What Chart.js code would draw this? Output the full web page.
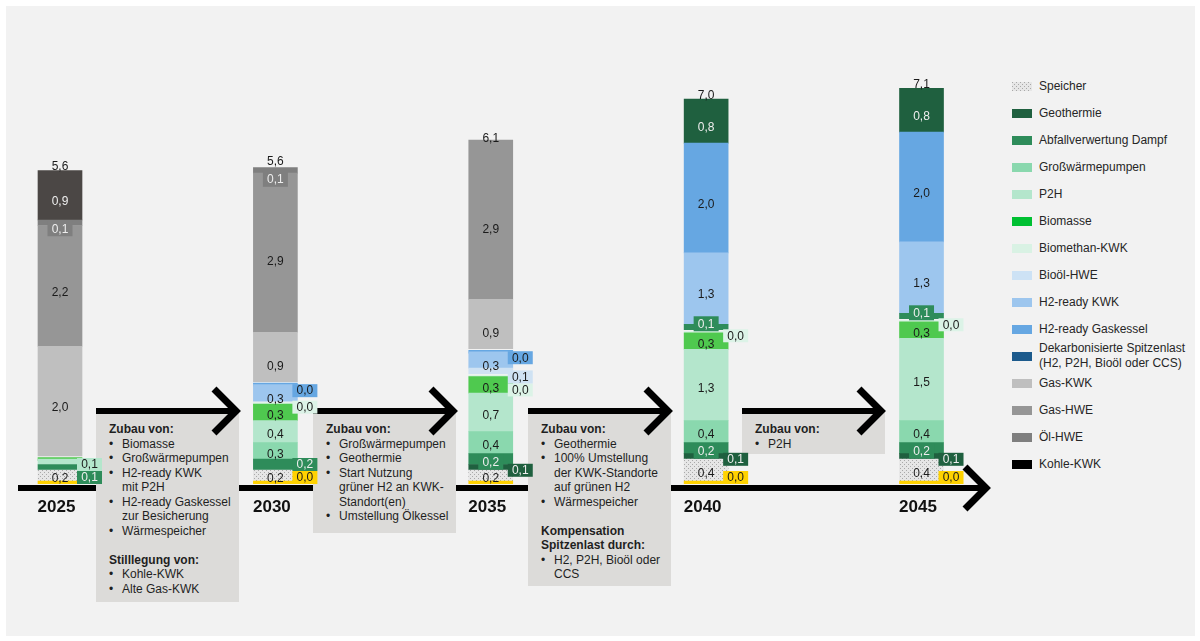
<!DOCTYPE html>
<html lang="de">
<head>
<meta charset="utf-8">
<title>Wärmeerzeugung 2025–2045</title>
<script src="https://cdn.jsdelivr.net/npm/chart.js@4.4.1/dist/chart.umd.min.js"></script>
<style>
  html, body { margin: 0; padding: 0; background: #fff; }
  #stage { position: relative; width: 1200px; height: 641px; overflow: hidden;
           font-family: "Liberation Sans", Arial, sans-serif; color: #1f1f1f; }
  #panel { position: absolute; left: 6px; top: 6px; width: 1189px; height: 630px; background: #f2f2f2; }
  #deco, #chart { position: absolute; left: 0; top: 0; }
  .note { position: absolute; font-size: 12px; line-height: 14.5px; white-space: nowrap; color: #1f1f1f; }
  .note .h { font-weight: bold; }
  .it { position: relative; padding-left: 13px; }
  .it:before { content: "\2022"; position: absolute; left: 0; }
  .gap { height: 14.5px; }
  #legend { position: absolute; left: 0; top: 0; font-size: 12px; color: #262626; }
  .sw { position: absolute; width: 20px; height: 9px; }
  .lt { position: absolute; line-height: 15px; white-space: nowrap; }
</style>
</head>
<body>
<div id="stage">
  <div id="panel"></div>
  <svg id="deco" width="1200" height="641">
    <!-- timeline -->
    <line x1="18" y1="488" x2="984" y2="488" stroke="#000" stroke-width="6"/>
    <polyline points="965,467 986,488 965,509" fill="none" stroke="#000" stroke-width="7" stroke-miterlimit="10"/>
    <!-- step boxes -->
    <rect x="96"  y="411" width="143" height="191" fill="#dcdbd9"/>
    <rect x="313" y="411" width="143" height="122" fill="#dcdbd9"/>
    <rect x="528" y="411" width="143" height="175" fill="#dcdbd9"/>
    <rect x="742" y="411" width="143" height="43"  fill="#dcdbd9"/>
    <!-- step arrows -->
    <g fill="none" stroke="#000" stroke-miterlimit="10">
      <line x1="96"  y1="411" x2="234" y2="411" stroke-width="6"/>
      <polyline points="214,389 236,411 214,433" stroke-width="7"/>
      <line x1="313" y1="411" x2="451" y2="411" stroke-width="6"/>
      <polyline points="431,389 453,411 431,433" stroke-width="7"/>
      <line x1="528" y1="411" x2="666" y2="411" stroke-width="6"/>
      <polyline points="646,389 668,411 646,433" stroke-width="7"/>
      <line x1="742" y1="411" x2="879" y2="411" stroke-width="6"/>
      <polyline points="859,389 881,411 859,433" stroke-width="7"/>
    </g>
  </svg>

  <div class="note" style="left:109px; top:422px;">
    <div class="h">Zubau von:</div>
    <div class="it">Biomasse</div>
    <div class="it">Großwärmepumpen</div>
    <div class="it">H2-ready KWK<br>mit P2H</div>
    <div class="it">H2-ready Gaskessel<br>zur Besicherung</div>
    <div class="it">Wärmespeicher</div>
    <div class="gap"></div>
    <div class="h">Stilllegung von:</div>
    <div class="it">Kohle-KWK</div>
    <div class="it">Alte Gas-KWK</div>
  </div>
  <div class="note" style="left:326px; top:422px;">
    <div class="h">Zubau von:</div>
    <div class="it">Großwärmepumpen</div>
    <div class="it">Geothermie</div>
    <div class="it">Start Nutzung<br>grüner H2 an KWK-<br>Standort(en)</div>
    <div class="it">Umstellung Ölkessel</div>
  </div>
  <div class="note" style="left:541px; top:422px;">
    <div class="h">Zubau von:</div>
    <div class="it">Geothermie</div>
    <div class="it">100% Umstellung<br>der KWK-Standorte<br>auf grünen H2</div>
    <div class="it">Wärmespeicher</div>
    <div class="gap"></div>
    <div class="h">Kompensation<br>Spitzenlast durch:</div>
    <div class="it">H2, P2H, Bioöl oder<br>CCS</div>
  </div>
  <div class="note" style="left:755px; top:422px;">
    <div class="h">Zubau von:</div>
    <div class="it">P2H</div>
  </div>

  <div id="legend"></div>
  <canvas id="chart" width="1200" height="641"></canvas>
</div>

<script>
// ---- Data (GW), stacked bottom to top ----
const years = [2025, 2030, 2035, 2040, 2045];

const sonstige     = [0.0, 0.0, 0.0, 0.0, 0.0];
const speicher     = [0.2, 0.2, 0.2, 0.4, 0.4];
const geothermie   = [null, null, 0.1, 0.1, 0.1];
const abfall       = [0.1, 0.2, 0.2, 0.2, 0.2];
const grosswp      = [null, 0.3, 0.4, 0.4, 0.4];
const p2h          = [0.1, 0.4, 0.7, 1.3, 1.5];
const biomasse     = [0.0, 0.3, 0.3, 0.3, 0.3];
const biomethan    = [null, 0.0, 0.0, 0.0, 0.0];
const biooel       = [null, null, 0.1, 0.1, 0.1];
const h2Kwk        = [null, 0.3, 0.3, 1.3, 1.3];
const h2Kessel     = [null, 0.0, 0.0, 2.0, 2.0];
const spitzenlast  = [null, null, null, 0.8, 0.8];
const gasKwk       = [2.0, 0.9, 0.9, null, null];
const gasHwe       = [2.2, 2.9, 2.9, null, null];
const oelHwe       = [0.1, 0.1, null, null, null];
const kohleKwk     = [0.9, null, null, null, null];

const totals = [5.6, 5.6, 6.1, 7.0, 7.1];

const legendNames = [
  'Speicher', 'Geothermie', 'Abfallverwertung Dampf', 'Großwärmepumpen', 'P2H',
  'Biomasse', 'Biomethan-KWK', 'Bioöl-HWE', 'H2-ready KWK', 'H2-ready Gaskessel',
  'Dekarbonisierte Spitzenlast\n(H2, P2H, Bioöl oder CCS)',
  'Gas-KWK', 'Gas-HWE', 'Öl-HWE', 'Kohle-KWK'
];

// ---- Styles ----
function dottedPattern() {
  const c = document.createElement('canvas');
  c.width = 4; c.height = 4;
  const g = c.getContext('2d');
  g.fillStyle = '#e6e6e6'; g.fillRect(0, 0, 4, 4);
  g.fillStyle = '#a9a9a9';
  g.fillRect(0, 0, 1, 1); g.fillRect(2, 2, 1, 1);
  return c;
}
const patternCanvas = dottedPattern();
const speicherFill = document.getElementById('chart').getContext('2d').createPattern(patternCanvas, 'repeat');

const legendColors = [
  'pattern', '#1f603f', '#2e8c5a', '#8ad8ae', '#b4e6cc', '#00c032', '#d9f2e4',
  '#cde2f5', '#9dc6ee', '#66a7e2', '#1c5a8c', '#bfbfbf', '#969696', '#7f7f7f', '#000000'
];

// label placement per year: 'in' = text in segment, 'box' = text on a filled tag,
// 'tag' = filled tag resting on top of the segment, 'side' = tag beside the bar,
// null = no label
const series = [
  { name: 'Sonstige',            values: sonstige,    color: '#ffd200', labels: [null, 'side', null, 'side', 'side'] },
  { name: 'Speicher',            values: speicher,    color: speicherFill, labels: ['in', 'in', 'in', 'in', 'in'] },
  { name: 'Geothermie',          values: geothermie,  color: '#1f603f', labels: [null, null, 'side', 'side', 'side'] },
  { name: 'Abfallverwertung Dampf', values: abfall,   color: '#2e8c5a', labels: ['side', 'side', 'box', 'box', 'box'] },
  { name: 'Großwärmepumpen',     values: grosswp,     color: '#8ad8ae', labels: [null, 'in', 'in', 'in', 'in'] },
  { name: 'P2H',                 values: p2h,         color: '#b4e6cc', labels: ['side', 'in', 'in', 'in', 'in'] },
  { name: 'Biomasse',            values: biomasse,    color: '#4fc94f', labels: [null, 'in', 'in', 'in', 'in'] },
  { name: 'Biomethan-KWK',       values: biomethan,   color: '#dcf3e7', labels: [null, 'side', 'side', 'side', 'side'] },
  { name: 'Bioöl-HWE',           values: biooel,      color: ['#cfe2f3', '#cfe2f3', '#cfe2f3', '#2e8c5a', '#2e8c5a'], labels: [null, null, 'side', 'tag', 'tag'] },
  { name: 'H2-ready KWK',        values: h2Kwk,       color: '#9dc6ee', labels: [null, 'in', 'in', 'in', 'in'] },
  { name: 'H2-ready Gaskessel',  values: h2Kessel,    color: '#66a7e2', labels: [null, 'side', 'side', 'in', 'in'] },
  { name: 'Dekarbonisierte Spitzenlast', values: spitzenlast, color: '#1f603f', labels: [null, null, null, 'in', 'in'] },
  { name: 'Gas-KWK',             values: gasKwk,      color: '#bfbfbf', labels: ['in', 'in', 'in', null, null] },
  { name: 'Gas-HWE',             values: gasHwe,      color: '#969696', labels: ['in', 'in', 'in', null, null] },
  { name: 'Öl-HWE',              values: oelHwe,      color: '#7f7f7f', labels: ['box', 'box', null, null, null] },
  { name: 'Kohle-KWK',           values: kohleKwk,    color: '#4b4745', labels: ['in', null, null, null, null] }
];

const FONT = '"Liberation Sans", Arial, sans-serif';
const fmt = v => v.toFixed(1).replace('.', ',');
const colorAt = (s, j) => Array.isArray(s.color) ? s.color[j] : s.color;
function isDark(c) {
  if (typeof c !== 'string') return false;
  const n = parseInt(c.slice(1), 16);
  const r = n >> 16, g = (n >> 8) & 255, b = n & 255;
  return (0.299 * r + 0.587 * g + 0.114 * b) / 255 < 0.52;
}

// ---- Legend ----
(function buildLegend() {
  const box = document.getElementById('legend');
  const dataUrl = patternCanvas.toDataURL();
  legendNames.forEach((name, k) => {
    const cy = 86 + 27 * k;
    const sw = document.createElement('div');
    sw.className = 'sw';
    sw.style.left = '1012px';
    sw.style.top = (cy - 4.5) + 'px';
    if (legendColors[k] === 'pattern') sw.style.backgroundImage = 'url(' + dataUrl + ')';
    else sw.style.background = legendColors[k];
    box.appendChild(sw);
    const lines = name.split('\n');
    const t = document.createElement('div');
    t.className = 'lt';
    t.style.left = '1039px';
    t.style.top = (cy - lines.length * 7.5) + 'px';
    t.innerHTML = lines.join('<br>');
    box.appendChild(t);
  });
})();

// ---- Labels, totals and year captions ----
const annotate = {
  id: 'annotate',
  afterDatasetsDraw(chart) {
    const ctx = chart.ctx;
    const yS = chart.scales.y, xS = chart.scales.x;
    const base = yS.getPixelForValue(0);
    ctx.save();
    ctx.font = '12px ' + FONT;
    ctx.textAlign = 'center';
    ctx.textBaseline = 'middle';

    years.forEach((yr, j) => {
      const cx = xS.getPixelForValue(yr);
      let cum = 0;
      let boxTop = Infinity;
      const side = [];
      series.forEach(s => {
        const v = s.values[j];
        if (v === null) return;
        const mid = yS.getPixelForValue(cum + v / 2);
        const segTop = yS.getPixelForValue(cum + v);
        cum += v;
        const mode = s.labels[j];
        const col = colorAt(s, j);
        const txtCol = isDark(col) ? '#eeeeee' : '#1a1a1a';
        if (mode === 'in') {
          ctx.fillStyle = txtCol;
          ctx.fillText(fmt(v), cx, mid + 0.5);
        } else if (mode === 'box' || mode === 'tag') {
          const c = mode === 'box' ? mid : segTop + 1 - 7.5;
          ctx.fillStyle = col;
          ctx.fillRect(cx - 12.5, c - 7.5, 25, 15);
          ctx.fillStyle = txtCol;
          ctx.fillText(fmt(v), cx, c + 0.5);
          boxTop = Math.min(boxTop, c - 7.5);
        } else if (mode === 'side') {
          side.push({ c: mid, v, col, txtCol });
        }
      });

      // keep side tags from overlapping: push down from the top, then up from the base
      const h = 13;
      for (let k = side.length - 2; k >= 0; k--) side[k].c = Math.max(side[k].c, side[k + 1].c + h);
      for (let k = 0; k < side.length; k++) {
        const limit = k === 0 ? base - h / 2 : side[k - 1].c - h;
        side[k].c = Math.min(side[k].c, limit);
      }
      side.forEach(t => {
        ctx.fillStyle = t.col;
        ctx.fillRect(cx + 17, t.c - h / 2, 25, h);
        ctx.fillStyle = t.txtCol;
        ctx.fillText(fmt(t.v), cx + 29.5, t.c + 0.5);
      });

      // total above the stack
      const top = Math.min(yS.getPixelForValue(cum), boxTop);
      ctx.fillStyle = '#1a1a1a';
      ctx.fillText(fmt(totals[j]), cx, top - 10);

      // year caption under the timeline
      ctx.font = 'bold 17px ' + FONT;
      ctx.textBaseline = 'alphabetic';
      ctx.fillStyle = '#111';
      ctx.fillText(String(yr), cx - 3.5, 512);
      ctx.font = '12px ' + FONT;
      ctx.textBaseline = 'middle';
    });
    ctx.restore();
  }
};

new Chart(document.getElementById('chart'), {
  type: 'bar',
  data: {
    datasets: series.map(s => ({
      label: s.name,
      data: years.map((yr, j) => ({ x: yr, y: s.values[j] })),
      backgroundColor: s.color,
      borderWidth: 0,
      barThickness: 44,
      minBarLength: 3,
      stack: 'mix'
    }))
  },
  options: {
    responsive: false,
    devicePixelRatio: 1,
    animation: false,
    layout: { padding: { left: 0, right: 0, top: 0, bottom: 157 } },
    plugins: { legend: { display: false }, tooltip: { enabled: false } },
    scales: {
      x: { type: 'linear', offset: false, stacked: true, display: false, min: 2023.607, max: 2051.465 },
      y: { stacked: true, display: false, min: 0, max: 8.816 }
    }
  },
  plugins: [annotate]
});
</script>
</body>
</html>
